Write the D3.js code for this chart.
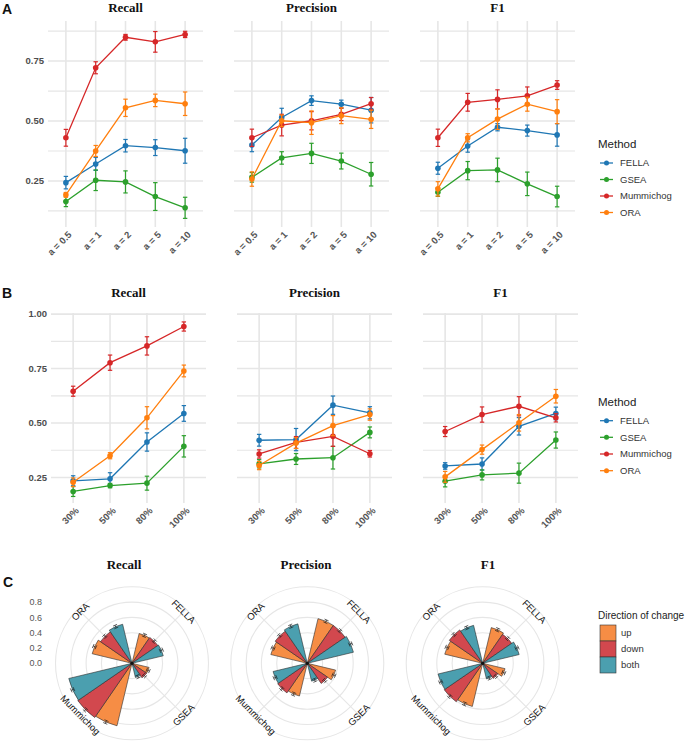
<!DOCTYPE html>
<html><head><meta charset="utf-8">
<script src="https://cdn.jsdelivr.net/npm/d3@7"></script>
<style>body{margin:0;background:#fff}svg{display:block}</style>
</head><body>
<svg id="c" width="691" height="742"></svg>
<script>
// ---------- data ----------
const methods = ["FELLA", "GSEA", "Mummichog", "ORA"];
const methodColors = ["#1F77B4", "#2CA02C", "#D62728", "#FF7F0E"];
const metrics = ["Recall", "Precision", "F1"];
const aLevels = ["a = 0.5", "a = 1", "a = 2", "a = 5", "a = 10"];
const pLevels = ["30%", "50%", "80%", "100%"];
const aTicks = [0.25, 0.50, 0.75];
const bTicks = [0.25, 0.50, 0.75, 1.00];

// Panel A (alpha)
const A_Recall_mean = { FELLA:[0.243,0.321,0.397,0.389,0.376], GSEA:[0.164,0.253,0.246,0.185,0.138], Mummichog:[0.430,0.722,0.849,0.830,0.861], ORA:[0.192,0.375,0.555,0.586,0.572] };
const A_Recall_err  = { FELLA:[0.026,0.027,0.026,0.033,0.052], GSEA:[0.021,0.043,0.046,0.058,0.044], Mummichog:[0.035,0.025,0.012,0.043,0.013], ORA:[0.010,0.023,0.036,0.026,0.049] };
const A_Precision_mean = { FELLA:[0.400,0.515,0.585,0.570,0.545], GSEA:[0.265,0.346,0.365,0.333,0.278], Mummichog:[0.430,0.483,0.501,0.528,0.572], ORA:[0.258,0.501,0.493,0.522,0.507] };
const A_Precision_err  = { FELLA:[0.028,0.038,0.020,0.017,0.053], GSEA:[0.020,0.026,0.042,0.033,0.049], Mummichog:[0.036,0.045,0.038,0.026,0.026], ORA:[0.030,0.024,0.049,0.033,0.038] };
const A_F1_mean = { FELLA:[0.303,0.396,0.474,0.460,0.442], GSEA:[0.203,0.293,0.296,0.238,0.185], Mummichog:[0.430,0.578,0.590,0.605,0.650], ORA:[0.217,0.430,0.508,0.570,0.539] };
const A_F1_err  = { FELLA:[0.025,0.026,0.015,0.023,0.047], GSEA:[0.017,0.038,0.049,0.049,0.043], Mummichog:[0.036,0.037,0.040,0.037,0.018], ORA:[0.030,0.017,0.043,0.029,0.050] };

// Panel B (percentage)
const B_Recall_mean = { FELLA:[0.235,0.244,0.413,0.544], GSEA:[0.186,0.213,0.224,0.393], Mummichog:[0.646,0.777,0.854,0.943], ORA:[0.228,0.350,0.524,0.739] };
const B_Recall_err  = { FELLA:[0.023,0.028,0.042,0.036], GSEA:[0.023,0.010,0.032,0.049], Mummichog:[0.023,0.035,0.042,0.021], ORA:[0.020,0.014,0.051,0.027] };
const B_Precision_mean = { FELLA:[0.421,0.424,0.582,0.547], GSEA:[0.313,0.335,0.341,0.457], Mummichog:[0.358,0.411,0.439,0.359], ORA:[0.305,0.408,0.488,0.539] };
const B_Precision_err  = { FELLA:[0.027,0.051,0.042,0.028], GSEA:[0.019,0.025,0.052,0.025], Mummichog:[0.019,0.027,0.046,0.015], ORA:[0.019,0.025,0.046,0.026] };
const B_F1_mean = { FELLA:[0.303,0.312,0.485,0.544], GSEA:[0.233,0.262,0.270,0.422], Mummichog:[0.461,0.539,0.577,0.524], ORA:[0.253,0.378,0.501,0.623] };
const B_F1_err  = { FELLA:[0.015,0.028,0.040,0.029], GSEA:[0.026,0.023,0.046,0.037], Mummichog:[0.023,0.035,0.044,0.019], ORA:[0.025,0.021,0.038,0.031] };

// Panel C (direction of change), values per method: [up, down, both]
const directions = ["up", "down", "both"];
const directionColors = ["#F68D45", "#D2484E", "#4B9FAF"];
const rTicks = [0.0, 0.2, 0.4, 0.6, 0.8];
const C_Recall_mean = { FELLA:[0.40,0.41,0.42], GSEA:[0.23,0.23,0.19], Mummichog:[0.84,0.86,0.85], ORA:[0.535,0.50,0.525] };
const C_Precision_mean = { FELLA:[0.60,0.60,0.62], GSEA:[0.38,0.32,0.24], Mummichog:[0.44,0.47,0.46], ORA:[0.49,0.51,0.53] };
const C_F1_mean = { FELLA:[0.48,0.46,0.49], GSEA:[0.30,0.24,0.21], Mummichog:[0.58,0.61,0.60], ORA:[0.51,0.53,0.51] };
const C_Recall_err = { FELLA:[0.02,0.02,0.02], GSEA:[0.02,0.02,0.02], Mummichog:[0.02,0.02,0.02], ORA:[0.02,0.02,0.02] };
const C_Precision_err = { FELLA:[0.02,0.02,0.02], GSEA:[0.02,0.02,0.02], Mummichog:[0.02,0.02,0.02], ORA:[0.02,0.02,0.02] };
const C_F1_err = { FELLA:[0.02,0.02,0.02], GSEA:[0.02,0.02,0.02], Mummichog:[0.02,0.02,0.02], ORA:[0.02,0.02,0.02] };

// ---------- drawing ----------
const svg = d3.select("#c");
const SANS = "'Liberation Sans', Arial, sans-serif";
const SERIF = "'Liberation Serif', 'Times New Roman', serif";
const color = d3.scaleOrdinal().domain(methods).range(methodColors);
const dirColor = d3.scaleOrdinal().domain(directions).range(directionColors);
const GRID = "#E6E6E6";

function panelLetter(t, x, y) {
  svg.append("text").attr("x", x).attr("y", y).text(t)
    .attr("font-family", SANS).attr("font-weight", "bold").attr("font-size", 14).attr("fill", "#111");
}
function title(t, cx, y) {
  svg.append("text").attr("x", cx).attr("y", y).attr("text-anchor", "middle").text(t)
    .attr("font-family", SERIF).attr("font-weight", "bold").attr("font-size", 13).attr("fill", "#111");
}

function linePanel(opts) {
  const { x0, width, top, bottom, domain, levels, ticks, means, errs, showY, titleText, titleY } = opts;
  const g = svg.append("g");
  const x = d3.scalePoint().domain(levels).range([x0, x0 + width]).padding(0.6);
  const y = d3.scaleLinear().domain(domain).range([bottom, top]);
  // minor grid
  const minors = [];
  for (let i = 0; i < ticks.length + 1; i++) {
    const step = ticks[1] - ticks[0];
    const v = ticks[0] - step / 2 + i * step;
    if (v > domain[0] && v < domain[1]) minors.push(v);
  }
  g.selectAll(".mn").data(minors).join("line")
    .attr("x1", x0).attr("x2", x0 + width).attr("y1", d => y(d)).attr("y2", d => y(d))
    .attr("stroke", GRID).attr("stroke-width", 1.2);
  g.selectAll(".mj").data(ticks.filter(v => v >= domain[0] && v <= domain[1] + 0.01)).join("line")
    .attr("x1", x0).attr("x2", x0 + width).attr("y1", d => y(d)).attr("y2", d => y(d))
    .attr("stroke", GRID).attr("stroke-width", 1.6);
  g.selectAll(".vx").data(levels).join("line")
    .attr("x1", d => x(d)).attr("x2", d => x(d)).attr("y1", top).attr("y2", bottom)
    .attr("stroke", GRID).attr("stroke-width", 1.6);
  // y labels
  if (showY) {
    g.selectAll(".yl").data(ticks).join("text")
      .attr("x", x0 - 4).attr("y", d => y(d)).attr("dy", "0.35em").attr("text-anchor", "end")
      .text(d => d.toFixed(2))
      .attr("font-family", SANS).attr("font-weight", "bold").attr("font-size", 9.5).attr("fill", "#4D4D4D");
  }
  // x labels
  g.selectAll(".xl").data(levels).join("text")
    .attr("transform", d => `translate(${x(d) + 4},${bottom + 6}) rotate(-45)`)
    .attr("text-anchor", "end").attr("dy", "0.35em")
    .text(d => d)
    .attr("font-family", SANS).attr("font-weight", "bold").attr("font-size", 9.5).attr("fill", "#555");
  // series
  methods.forEach(m => {
    const pts = levels.map((l, i) => ({ l, v: means[m][i], e: errs[m][i] }));
    const c = color(m);
    g.append("path").datum(pts)
      .attr("d", d3.line().x(d => x(d.l)).y(d => y(d.v)))
      .attr("fill", "none").attr("stroke", c).attr("stroke-width", 1.3);
    const eb = g.append("g").attr("stroke", c).attr("stroke-width", 1.2);
    eb.selectAll(".ev").data(pts).join("line")
      .attr("x1", d => x(d.l)).attr("x2", d => x(d.l)).attr("y1", d => y(d.v - d.e)).attr("y2", d => y(d.v + d.e));
    eb.selectAll(".et").data(pts).join("line")
      .attr("x1", d => x(d.l) - 2.2).attr("x2", d => x(d.l) + 2.2).attr("y1", d => y(d.v + d.e)).attr("y2", d => y(d.v + d.e));
    eb.selectAll(".eb").data(pts).join("line")
      .attr("x1", d => x(d.l) - 2.2).attr("x2", d => x(d.l) + 2.2).attr("y1", d => y(d.v - d.e)).attr("y2", d => y(d.v - d.e));
    g.selectAll(null).data(pts).join("circle")
      .attr("cx", d => x(d.l)).attr("cy", d => y(d.v)).attr("r", 2.8).attr("fill", c);
  });
  title(titleText, x0 + width / 2, titleY);
}

function methodLegend(x, yTitle, ys) {
  const g = svg.append("g");
  g.append("text").attr("x", x).attr("y", yTitle).text("Method")
    .attr("font-family", SANS).attr("font-size", 11.5).attr("fill", "#222");
  methods.forEach((m, i) => {
    const yy = ys[i];
    g.append("line").attr("x1", x + 2).attr("x2", x + 15).attr("y1", yy).attr("y2", yy)
      .attr("stroke", color(m)).attr("stroke-width", 1.3);
    g.append("circle").attr("cx", x + 8.5).attr("cy", yy).attr("r", 2.5).attr("fill", color(m));
    g.append("text").attr("x", x + 22).attr("y", yy).attr("dy", "0.35em").text(m)
      .attr("font-family", SANS).attr("font-size", 9.5).attr("fill", "#333");
  });
}

// ---- Panel A ----
panelLetter("A", 2, 14);
const Ameans = [A_Recall_mean, A_Precision_mean, A_F1_mean];
const Aerrs = [A_Recall_err, A_Precision_err, A_F1_err];
[48, 234, 420].forEach((x0, i) => linePanel({
  x0, width: 155, top: 21, bottom: 227, domain: [0.058, 0.917], levels: aLevels, ticks: aTicks,
  means: Ameans[i], errs: Aerrs[i], showY: i === 0, titleText: metrics[i], titleY: 12
}));
methodLegend(598, 148, [163, 179.5, 196, 212.5]);

// ---- Panel B ----
panelLetter("B", 2, 298);
const Bmeans = [B_Recall_mean, B_Precision_mean, B_F1_mean];
const Berrs = [B_Recall_err, B_Precision_err, B_F1_err];
[51, 237, 423].forEach((x0, i) => linePanel({
  x0, width: 155, top: 313, bottom: 503, domain: [0.133, 1.005], levels: pLevels, ticks: bTicks,
  means: Bmeans[i], errs: Berrs[i], showY: i === 0, titleText: metrics[i], titleY: 297
}));
methodLegend(598, 406, [420.7, 437.3, 454, 470.7]);

// ---- Panel C ----
panelLetter("C", 3, 587);
const Cmeans = [C_Recall_mean, C_Precision_mean, C_F1_mean];
const Cerrs = [C_Recall_err, C_Precision_err, C_F1_err];
const centers = [[132, 663.3], [307.3, 663.3], [482.7, 663.3]];
const titleX = [124, 306, 488];
const r = d3.scaleLinear().domain([0, 1]).range([0, 76.5]);
const theta = d3.scaleBand().domain(methods).range([0, 2 * Math.PI]);
const sub = d3.scaleBand().domain(directions).range([-0.35, 0.35]); // fraction of category width

centers.forEach(([cx, cy], k) => {
  const g = svg.append("g").attr("transform", `translate(${cx},${cy})`);
  g.selectAll(".gc").data([0.2, 0.4, 0.6, 0.8, 1.0]).join("circle")
    .attr("r", d => r(d)).attr("fill", "none").attr("stroke", GRID).attr("stroke-width", 1.1);
  g.selectAll(".sp").data(methods).join("line")
    .attr("x1", 0).attr("y1", 0)
    .attr("x2", d => r(1.0) * Math.sin(theta(d) + theta.bandwidth() / 2))
    .attr("y2", d => -r(1.0) * Math.cos(theta(d) + theta.bandwidth() / 2))
    .attr("stroke", GRID).attr("stroke-width", 1.1);
  const bw = theta.bandwidth();
  const arc = d3.arc().innerRadius(0);
  const bars = [];
  methods.forEach(m => directions.forEach((dname, j) => {
    const c = theta(m) + bw / 2;
    const s = c + sub(dname) * bw;
    bars.push({ m, dname, v: Cmeans[k][m][j], e: Cerrs[k][m][j], s, en: s + sub.bandwidth() * bw });
  }));
  g.selectAll(".bar").data(bars).join("path")
    .attr("d", d => arc({ outerRadius: r(d.v), startAngle: d.s, endAngle: d.en }))
    .attr("fill", d => dirColor(d.dname)).attr("stroke", "#2b2b2b").attr("stroke-width", 0.6);
  bars.forEach(d => {
    const a = (d.s + d.en) / 2;
    const ux = Math.sin(a), uy = -Math.cos(a);
    const px = Math.cos(a), py = Math.sin(a);
    const r1 = r(d.v - d.e), r2 = r(d.v + d.e);
    const eg = g.append("g").attr("stroke", "#222").attr("stroke-width", 0.7);
    eg.append("line").attr("x1", ux * r1).attr("y1", uy * r1).attr("x2", ux * r2).attr("y2", uy * r2);
    [r1, r2].forEach(rr => eg.append("line")
      .attr("x1", ux * rr - px * 2.2).attr("y1", uy * rr - py * 2.2)
      .attr("x2", ux * rr + px * 2.2).attr("y2", uy * rr + py * 2.2));
  });
  g.append("circle").attr("r", 1.6).attr("fill", "#111");
  methods.forEach(m => {
    const a = theta(m) + bw / 2;
    const deg = a * 180 / Math.PI;
    let rot = deg;
    if (deg > 90 && deg < 270) rot = deg - 180;
    if (deg >= 270) rot = deg - 360;
    const R = 73;
    g.append("text")
      .attr("transform", `translate(${R * Math.sin(a)},${-R * Math.cos(a)}) rotate(${rot})`)
      .attr("text-anchor", "middle").attr("dy", "0.35em").text(m)
      .attr("font-family", SANS).attr("font-size", 9.5).attr("fill", "#111");
  });
  if (k === 0) {
    svg.selectAll(null).data(rTicks).join("text")
      .attr("x", 42).attr("y", d => cy - r(d)).attr("dy", "0.35em").attr("text-anchor", "end")
      .text(d => d.toFixed(1))
      .attr("font-family", SANS).attr("font-size", 9).attr("fill", "#555");
  }
  title(metrics[k], titleX[k], 569);
});

// legend C
const lg = svg.append("g");
lg.append("text").attr("x", 598).attr("y", 619).text("Direction of change")
  .attr("font-family", SANS).attr("font-size", 10).attr("fill", "#222");
directions.forEach((dname, i) => {
  lg.append("rect").attr("x", 600).attr("y", 625 + i * 16).attr("width", 16).attr("height", 16)
    .attr("fill", dirColor(dname)).attr("stroke", "#333").attr("stroke-width", 0.6);
  lg.append("text").attr("x", 621).attr("y", 633 + i * 16).attr("dy", "0.35em").text(dname)
    .attr("font-family", SANS).attr("font-size", 9.5).attr("fill", "#333");
});
</script>
</body></html>
